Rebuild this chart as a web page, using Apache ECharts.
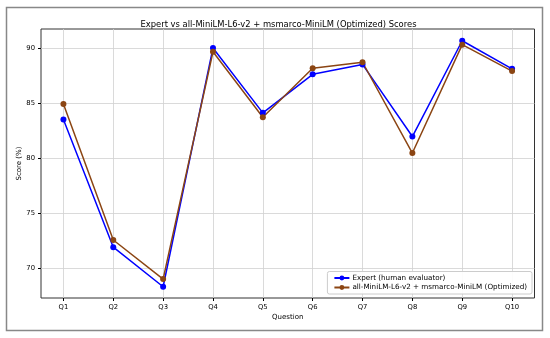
<!DOCTYPE html>
<html><head><meta charset="utf-8">
<script src="https://cdn.jsdelivr.net/npm/echarts@6/dist/echarts.min.js"></script>
<style>html,body{margin:0;padding:0;background:#fff}#c{width:550px;height:338px}</style>
</head><body><div id="c"></div>
<script>
const categories = ['Q1','Q2','Q3','Q4','Q5','Q6','Q7','Q8','Q9','Q10'];
const expert = [83.5, 71.9, 68.3, 90.0, 84.1, 87.6, 88.5, 81.95, 90.65, 88.1];
const optimized = [84.9, 72.55, 69.0, 89.65, 83.7, 88.15, 88.7, 80.45, 90.3, 87.9];
const yTicks = [70, 75, 80, 85, 90];
const seriesNames = ['Expert (human evaluator)', 'all-MiniLM-L6-v2 + msmarco-MiniLM (Optimized)'];
const titleText = 'Expert vs all-MiniLM-L6-v2 + msmarco-MiniLM (Optimized) Scores';

const font = 'DejaVu Sans';
const chart = echarts.init(document.getElementById('c'), null, {renderer: 'canvas'});
const toPairs = arr => arr.map((v, i) => [i, v]);
const xIdx = categories.map((_, i) => i);
chart.setOption({
  animation: false,
  backgroundColor: '#fff',
  title: {text: titleText, left: 273.5, textAlign: 'center', top: 16,
    textStyle: {fontFamily: font, fontSize: 8.4, fontWeight: 'normal', color: '#000'}},
  grid: {left: 41, right: 15.5, top: 29, bottom: 40, show: true, borderColor: '#333', borderWidth: 1},
  xAxis: {type: 'value', min: -0.45, max: 9.45,
    name: 'Question', nameLocation: 'middle', nameGap: 16, nameMoveOverlap: false,
    nameTextStyle: {fontFamily: font, fontSize: 7, color: '#000'},
    axisLine: {show: false, onZero: false},
    axisTick: {show: true, customValues: xIdx, length: 3, lineStyle: {color: '#000'}},
    axisLabel: {customValues: xIdx, formatter: v => categories[Math.round(v)], fontFamily: font, fontSize: 6.8, color: '#000', margin: 6},
    splitLine: {show: true, lineStyle: {color: '#d0d0d0', width: 0.8}}},
  yAxis: {type: 'value', min: 67.28, max: 91.72,
    name: 'Score (%)', nameLocation: 'middle', nameGap: 18, nameMoveOverlap: false,
    nameTextStyle: {fontFamily: font, fontSize: 7, color: '#000'},
    axisLine: {show: false, onZero: false},
    axisTick: {show: true, customValues: yTicks, length: 3, lineStyle: {color: '#000'}},
    axisLabel: {customValues: yTicks, fontFamily: font, fontSize: 6.8, color: '#000', margin: 6},
    splitLine: {show: true, lineStyle: {color: '#d0d0d0', width: 0.8}}},
  legend: {orient: 'vertical', right: 18, bottom: 44, itemWidth: 15, itemHeight: 6, itemGap: 2.5,
    padding: [3, 5, 3, 6],
    backgroundColor: 'rgba(255,255,255,0.9)', borderColor: '#ccc', borderWidth: 1, borderRadius: 2,
    textStyle: {fontFamily: font, fontSize: 7.2, color: '#000', padding: [0, 0, 0, -2]},
    data: seriesNames},
  series: [
    {name: seriesNames[0], type: 'line', data: toPairs(expert), symbol: 'circle', symbolSize: 6,
      itemStyle: {color: '#0000ff'}, lineStyle: {color: '#0000ff', width: 1.5}},
    {name: seriesNames[1], type: 'line', data: toPairs(optimized), symbol: 'circle', symbolSize: 6,
      itemStyle: {color: '#8b4513'}, lineStyle: {color: '#8b4513', width: 1.5}}
  ],
  graphic: [{type: 'rect', shape: {x: 6.5, y: 7.5, width: 536, height: 323},
    style: {fill: null, stroke: '#888', lineWidth: 1.5}, silent: true}]
});
</script></body></html>
